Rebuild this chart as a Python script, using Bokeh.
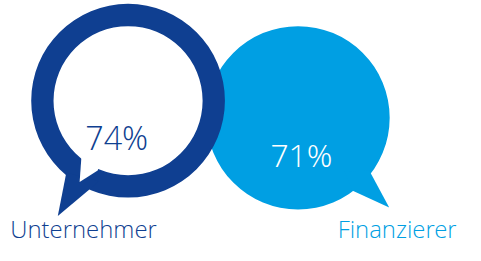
from bokeh.plotting import figure
from bokeh.models import Range1d
from bokeh.core.properties import value
from bokeh.embed import file_html
from bokeh.resources import INLINE

# data
labels = ["Unternehmer", "Finanzierer"]
shares = [74, 71]
colors = ["#0f3f91", "#009fe3"]
pct_colors = ["#0f3f91", "#ffffff"]

# layout (reference pixel units, y downwards)
W, H = 465, 245
YMIN, YMAX = 5, 263
k = H / float(YMAX - YMIN)
xspan = W / k
x0 = 242.5 - xspan / 2.0
FONT = "Open Sans Light"
MID = 0.39  # text anchor sits this many em above the visual baseline

p = figure(width=W, height=H, output_backend="svg", toolbar_location=None,
           x_range=Range1d(x0, x0 + xspan), y_range=Range1d(YMAX, YMIN),
           min_border=0, min_border_left=0, min_border_right=0,
           min_border_top=0, min_border_bottom=0)
p.xaxis.visible = False
p.yaxis.visible = False
p.xgrid.visible = False
p.ygrid.visible = False
p.outline_line_color = None
p.background_fill_color = "white"
p.border_fill_color = "white"

# Finanzierer bubble (filled)
p.circle(x=[311], y=[128.5], radius=96.5, fill_color=colors[1], line_color=None)
p.patch([360, 386, 407, 368], [185, 184, 223, 205], fill_color=colors[1], line_color=None)

# Unternehmer bubble (ring)
p.annulus(x=[132], y=[110.5], inner_radius=78.5, outer_radius=102,
          fill_color=colors[0], line_color=None)
p.patch([67, 58, 90, 101], [186, 232, 205, 195], fill_color=colors[0], line_color=None)
p.patch([83, 81, 100, 106], [168, 196, 184, 168], fill_color="white", line_color=None)


def label(x, base, txt, color, size, align):
    p.text(x=[x], y=[base - MID * size], text=[txt], text_color=color,
           text_font=value(FONT), text_font_size=f"{size*k:.1f}px",
           text_align=align, text_baseline="alphabetic")


# percentages
label(120, 162, f"{shares[0]}%", pct_colors[0], 34, "center")
label(314.5, 180, f"{shares[1]}%", pct_colors[1], 33.5, "center")

# labels
label(8, 254.5, labels[0], colors[0], 25.2, "left")
label(478, 254.5, labels[1], colors[1], 25.2, "right")

open("out.html", "w").write(file_html(p, INLINE))
